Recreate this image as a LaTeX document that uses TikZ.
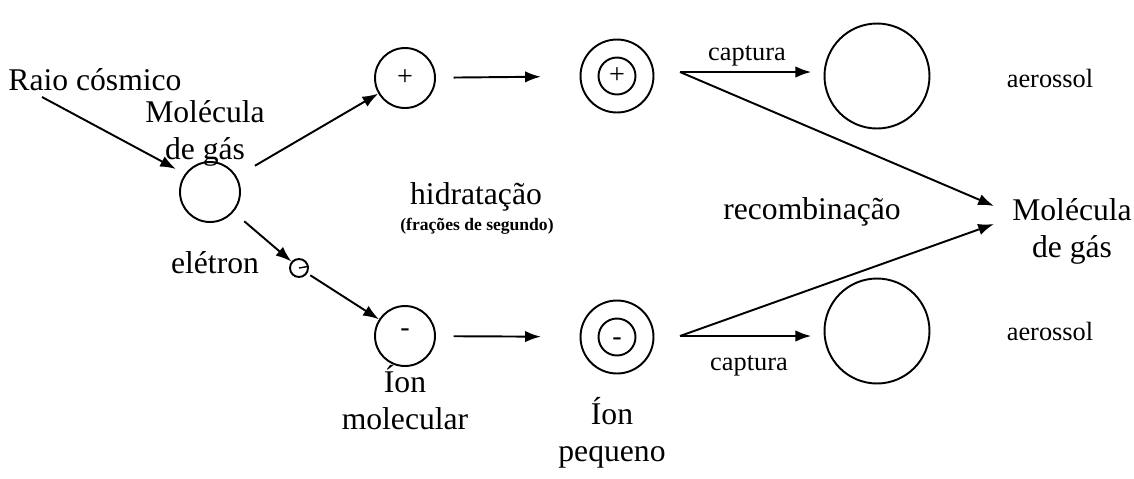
\documentclass[tikz,border=0pt]{standalone}
\usepackage{fontspec}
\setmainfont{Liberation Serif}
\usetikzlibrary{arrows.meta}

\begin{document}
\begin{tikzpicture}[x=0.02cm,y=-0.02cm,line width=1.1pt,
  seta/.style={-{Latex[length=9pt,width=6.5pt]}},
  bola/.style={draw,circle,inner sep=0pt,minimum size=#1},
  sinal/.style={font=\fontsize{16}{16}\selectfont},
  rotulo/.style={font=\fontsize{18}{21}\selectfont,align=center},
  menor/.style={font=\fontsize{15}{18}\selectfont}]
\useasboundingbox (0,0) rectangle (1134,478);

% particulas
\node[bola=1.2cm] (gas) at (210,192) {};
\node[bola=1.2cm,sinal] (mais) at (405,78) {+};
\node[bola=1.2cm,sinal] (menos) at (405,336) {\smash{-}};
\node[bola=0.36cm] (el) at (299,268) {};
\draw[line width=0.8pt] (el.center) -- ([yshift=1pt]el.east);
\node[bola=1.46cm] (hmais) at (617,76) {};
\node[bola=0.74cm,sinal] (hmaisin) at (617,76) {+};
\node[bola=1.46cm] (hmenos) at (617,337) {};
\node[bola=0.74cm,sinal] (hmenosin) at (617,337) {\smash{\raisebox{-5pt}{-}}};
\node[bola=2.1cm] (aer1) at (877,76) {};
\node[bola=2.1cm] (aer2) at (877,331) {};

% textos
\node[rotulo] (raio) at (95,80) {Raio cósmico};
\node[rotulo] (tgas) at (205,133) {Molécula\\de gás};
\node[rotulo] (tel) at (215,263) {elétron};
\node[rotulo] (tmol) at (405,398) {Íon\\molecular};
\node[rotulo] (tpeq) at (612,433) {Íon\\pequeno};
\node[rotulo] (thid) at (476,197) {hidratação};
\node[font=\fontsize{10}{12}\selectfont\bfseries] (tfr) at (477,226) {(frações de segundo)};
\node[rotulo] (trec) at (812,212) {recombinação};
\node[rotulo] (tmg) at (1072,231) {Molécula\\de gás};
\node[menor] (cap1) at (747,56) {captura};
\node[menor] (cap2) at (749,366) {captura};
\node[menor] (ta1) at (1050,78) {aerossol};
\node[menor] (ta2) at (1050,331) {aerossol};

% pontas livres
\coordinate (r0) at (42,97);
\coordinate (r1) at (176,169);
\coordinate (c1) at (680,72);
\coordinate (c2) at (680,336);
\coordinate (m1) at (994,206);
\coordinate (m2) at (994,224);

% setas
\draw[seta] (r0) -- (r1);
\draw[seta,shorten <=12pt] (gas) -- (mais);
\draw[seta,shorten <=8pt] (gas) -- (el);
\draw[seta,shorten <=2pt] (el) -- (menos);
\draw[seta,shorten <=10pt,shorten >=22pt] (mais) -- (hmais);
\draw[seta,shorten <=10pt,shorten >=22pt] (menos) -- (hmenos);
\draw[seta,shorten >=7pt] (c1) -- (c1 -| aer1.west);
\draw[seta,shorten >=7pt] (c2) -- (c2 -| aer2.west);
\draw[seta] (c1) -- (m1);
\draw[seta] (c2) -- (m2);
\end{tikzpicture}
\end{document}
